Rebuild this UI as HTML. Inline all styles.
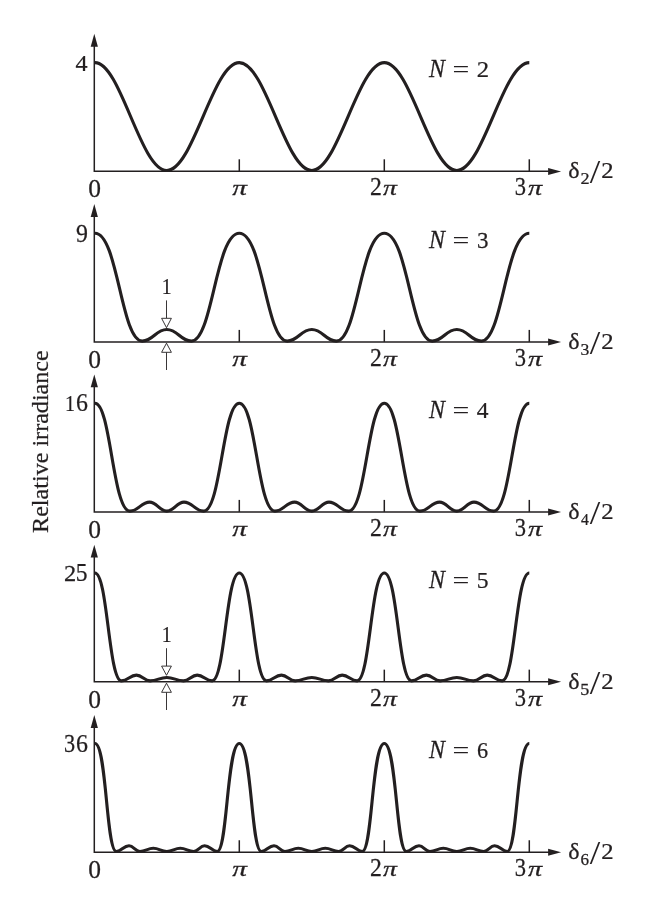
<!DOCTYPE html>
<html lang="en"><head><meta charset="utf-8"><title>Multiple-beam interference: relative irradiance</title>
<style>
html,body{margin:0;padding:0;background:#fff}
svg{display:block}
text{font-family:"Liberation Serif","DejaVu Serif",serif;fill:#231f20;stroke:#231f20;stroke-width:0.25px}
.it{font-style:italic}
.ax{stroke:#231f20;stroke-width:1.5;fill:none}
.cv{stroke:#231f20;stroke-width:3.1;fill:none;stroke-linejoin:round;stroke-linecap:butt}
.th{stroke:#231f20;stroke-width:0.9;fill:none}
.hd{fill:#231f20;stroke:none}
.ho{fill:#fff;stroke:#231f20;stroke-width:0.9}
</style></head><body>
<svg width="653" height="921" viewBox="0 0 653 921">
<rect width="653" height="921" fill="#fff"/>
<g>
<path class="ax" d="M94.3,43.80 V171.30 H550"/>
<path class="hd" d="M94.3,33.80 L97.89999999999999,46.70 L90.7,46.70 Z"/>
<path class="hd" d="M561.1,171.40 L548.1,167.90 L548.1,174.90 Z"/>
<path class="ax" d="M239.3,171.30 V159.30"/>
<path class="ax" d="M384.3,171.30 V159.30"/>
<path class="ax" d="M529.3,171.30 V159.30"/>
<path class="cv" d="M95.00,62.60C120.70,62.60 140.40,170.50 166.80,170.50C193.20,170.50 212.90,62.60 239.30,62.60C265.70,62.60 285.40,170.50 311.80,170.50C338.20,170.50 357.90,62.60 384.30,62.60C410.70,62.60 430.40,170.50 456.80,170.50C483.20,170.50 502.90,62.60 529.30,62.60"/>
<text transform="translate(88.18 197.21) scale(1.024 1)" font-size="24.90">0</text>
<text class="it" transform="translate(232.19 194.64) scale(1.360 1)" font-size="21.55">π</text>
<text transform="translate(369.91 194.65) scale(0.981 1)" font-size="24.17">2</text>
<text class="it" transform="translate(383.10 194.64) scale(1.289 1)" font-size="21.55">π</text>
<text transform="translate(514.87 194.81) scale(0.922 1)" font-size="24.41">3</text>
<text class="it" transform="translate(527.90 194.64) scale(1.307 1)" font-size="21.55">π</text>
<text transform="translate(75.48 70.75) scale(1.037 1)" font-size="23.25">4</text>
<text class="it" transform="translate(429.02 76.95) scale(0.983 1)" font-size="24.28">N</text>
<text style="stroke:none" transform="translate(452.46 77.12) scale(1.245 1)" font-size="24.00">=</text>
<text transform="translate(476.76 76.75) scale(1.055 1)" font-size="23.41">2</text>
<text transform="translate(568.25 178.23) scale(1.056 1)" font-size="22.72">δ</text>
<text transform="translate(580.55 184.25) scale(1.067 1)" font-size="17.07">2</text>
<text style="stroke:none" transform="translate(589.85 183.21) scale(1.099 1)" font-size="34.38">/</text>
<text transform="translate(601.16 178.45) scale(1.083 1)" font-size="22.81">2</text>
</g>
<g>
<path class="ax" d="M94.3,214.10 V341.90 H550"/>
<path class="hd" d="M94.3,204.10 L97.89999999999999,217.00 L90.7,217.00 Z"/>
<path class="hd" d="M561.1,342.00 L548.1,338.50 L548.1,345.50 Z"/>
<path class="ax" d="M239.3,341.90 V329.90"/>
<path class="ax" d="M384.3,341.90 V329.90"/>
<path class="ax" d="M529.3,341.90 V329.90"/>
<path class="cv" d="M95.00,233.20C117.77,233.20 121.12,341.10 142.20,341.10C153.27,341.10 155.73,329.50 166.80,329.50C177.87,329.50 180.33,341.10 191.40,341.10C212.48,341.10 215.83,233.20 239.30,233.20C262.77,233.20 266.12,341.10 287.20,341.10C298.27,341.10 300.73,329.50 311.80,329.50C322.87,329.50 325.33,341.10 336.40,341.10C357.48,341.10 360.83,233.20 384.30,233.20C407.77,233.20 411.12,341.10 432.20,341.10C443.27,341.10 445.73,329.50 456.80,329.50C467.87,329.50 470.33,341.10 481.40,341.10C502.48,341.10 505.83,233.20 529.30,233.20"/>
<text transform="translate(88.18 368.21) scale(1.024 1)" font-size="24.90">0</text>
<text class="it" transform="translate(232.19 365.64) scale(1.360 1)" font-size="21.55">π</text>
<text transform="translate(369.91 365.65) scale(0.981 1)" font-size="24.17">2</text>
<text class="it" transform="translate(383.10 365.64) scale(1.289 1)" font-size="21.55">π</text>
<text transform="translate(514.87 365.81) scale(0.922 1)" font-size="24.41">3</text>
<text class="it" transform="translate(527.90 365.64) scale(1.307 1)" font-size="21.55">π</text>
<text transform="translate(75.98 241.50) scale(0.950 1)" font-size="25.15">9</text>
<text class="it" transform="translate(429.02 247.95) scale(0.983 1)" font-size="24.28">N</text>
<text style="stroke:none" transform="translate(452.46 248.12) scale(1.245 1)" font-size="24.00">=</text>
<text transform="translate(476.95 247.82) scale(0.966 1)" font-size="23.81">3</text>
<text transform="translate(568.25 349.23) scale(1.056 1)" font-size="22.72">δ</text>
<text transform="translate(580.50 355.09) scale(1.051 1)" font-size="16.82">3</text>
<text style="stroke:none" transform="translate(589.85 354.21) scale(1.099 1)" font-size="34.38">/</text>
<text transform="translate(601.16 349.45) scale(1.083 1)" font-size="22.81">2</text>
<path class="th" d="M166.5,300.4 V318.3"/>
<path class="ho" d="M166.5,327.7 L161.6,318.3 L171.4,318.3 Z"/>
<path class="th" d="M166.5,352.3 V370.0"/>
<path class="ho" d="M166.5,343.2 L161.6,352.3 L171.4,352.3 Z"/>
<text transform="translate(161.70 293.65) scale(0.850 1)" font-size="23.18">1</text>
</g>
<g>
<path class="ax" d="M94.3,384.40 V511.90 H550"/>
<path class="hd" d="M94.3,374.40 L97.89999999999999,387.30 L90.7,387.30 Z"/>
<path class="hd" d="M561.1,512.00 L548.1,508.50 L548.1,515.50 Z"/>
<path class="ax" d="M239.3,511.90 V499.90"/>
<path class="ax" d="M384.3,511.90 V499.90"/>
<path class="ax" d="M529.3,511.90 V499.90"/>
<path class="cv" d="M95.00,403.20C110.68,403.20 112.81,511.10 129.90,511.10C138.17,511.10 141.33,502.10 149.60,502.10C156.82,502.10 159.58,511.10 166.80,511.10C174.02,511.10 176.78,502.10 184.00,502.10C192.27,502.10 195.43,511.10 203.70,511.10C220.79,511.10 222.92,403.20 239.30,403.20C255.68,403.20 257.81,511.10 274.90,511.10C283.17,511.10 286.33,502.10 294.60,502.10C301.82,502.10 304.58,511.10 311.80,511.10C319.02,511.10 321.78,502.10 329.00,502.10C337.27,502.10 340.43,511.10 348.70,511.10C365.79,511.10 367.92,403.20 384.30,403.20C400.68,403.20 402.81,511.10 419.90,511.10C428.17,511.10 431.33,502.10 439.60,502.10C446.82,502.10 449.58,511.10 456.80,511.10C464.02,511.10 466.78,502.10 474.00,502.10C482.27,502.10 485.43,511.10 493.70,511.10C510.79,511.10 512.92,403.20 529.30,403.20"/>
<text transform="translate(88.18 538.21) scale(1.024 1)" font-size="24.90">0</text>
<text class="it" transform="translate(232.19 535.64) scale(1.360 1)" font-size="21.55">π</text>
<text transform="translate(369.91 535.65) scale(0.981 1)" font-size="24.17">2</text>
<text class="it" transform="translate(383.10 535.64) scale(1.289 1)" font-size="21.55">π</text>
<text transform="translate(514.87 535.81) scale(0.922 1)" font-size="24.41">3</text>
<text class="it" transform="translate(527.90 535.64) scale(1.307 1)" font-size="21.55">π</text>
<text transform="translate(64.88 410.75) scale(0.850 1)" font-size="23.48">1</text>
<text transform="translate(76.02 411.30) scale(0.927 1)" font-size="25.75">6</text>
<text class="it" transform="translate(429.02 417.95) scale(0.983 1)" font-size="24.28">N</text>
<text style="stroke:none" transform="translate(452.46 418.12) scale(1.245 1)" font-size="24.00">=</text>
<text transform="translate(476.79 417.75) scale(0.996 1)" font-size="23.55">4</text>
<text transform="translate(568.25 519.23) scale(1.056 1)" font-size="22.72">δ</text>
<text transform="translate(581.04 525.25) scale(0.915 1)" font-size="17.17">4</text>
<text style="stroke:none" transform="translate(589.85 524.21) scale(1.099 1)" font-size="34.38">/</text>
<text transform="translate(601.16 519.45) scale(1.083 1)" font-size="22.81">2</text>
</g>
<g>
<path class="ax" d="M94.3,554.70 V681.65 H550"/>
<path class="hd" d="M94.3,544.70 L97.89999999999999,557.60 L90.7,557.60 Z"/>
<path class="hd" d="M561.1,681.75 L548.1,678.25 L548.1,685.25 Z"/>
<path class="ax" d="M239.3,681.65 V669.65"/>
<path class="ax" d="M384.3,681.65 V669.65"/>
<path class="ax" d="M529.3,681.65 V669.65"/>
<path class="cv" d="M95.00,572.95C107.58,572.95 108.66,680.85 121.40,680.85C127.70,680.85 130.10,675.15 136.40,675.15C142.20,675.15 144.40,680.85 150.20,680.85C157.17,680.85 159.83,677.45 166.80,677.45C173.77,677.45 176.43,680.85 183.40,680.85C189.20,680.85 191.40,675.15 197.20,675.15C203.50,675.15 205.90,680.85 212.20,680.85C224.94,680.85 226.02,572.95 239.30,572.95C252.58,572.95 253.66,680.85 266.40,680.85C272.70,680.85 275.10,675.15 281.40,675.15C287.20,675.15 289.40,680.85 295.20,680.85C302.17,680.85 304.83,677.45 311.80,677.45C318.77,677.45 321.43,680.85 328.40,680.85C334.20,680.85 336.40,675.15 342.20,675.15C348.50,675.15 350.90,680.85 357.20,680.85C369.94,680.85 371.02,572.95 384.30,572.95C397.58,572.95 398.66,680.85 411.40,680.85C417.70,680.85 420.10,675.15 426.40,675.15C432.20,675.15 434.40,680.85 440.20,680.85C447.17,680.85 449.83,677.45 456.80,677.45C463.77,677.45 466.43,680.85 473.40,680.85C479.20,680.85 481.40,675.15 487.20,675.15C493.50,675.15 495.90,680.85 502.20,680.85C514.94,680.85 516.02,572.95 529.30,572.95"/>
<text transform="translate(88.18 708.21) scale(1.024 1)" font-size="24.90">0</text>
<text class="it" transform="translate(232.19 705.64) scale(1.360 1)" font-size="21.55">π</text>
<text transform="translate(369.91 705.65) scale(0.981 1)" font-size="24.17">2</text>
<text class="it" transform="translate(383.10 705.64) scale(1.289 1)" font-size="21.55">π</text>
<text transform="translate(514.87 705.81) scale(0.922 1)" font-size="24.41">3</text>
<text class="it" transform="translate(527.90 705.64) scale(1.307 1)" font-size="21.55">π</text>
<text transform="translate(63.98 580.65) scale(1.024 1)" font-size="23.86">2</text>
<text transform="translate(75.68 580.91) scale(0.961 1)" font-size="24.53">5</text>
<text class="it" transform="translate(429.02 587.95) scale(0.983 1)" font-size="24.28">N</text>
<text style="stroke:none" transform="translate(452.46 588.12) scale(1.245 1)" font-size="24.00">=</text>
<text transform="translate(476.68 587.81) scale(0.980 1)" font-size="24.08">5</text>
<text transform="translate(568.25 689.23) scale(1.056 1)" font-size="22.72">δ</text>
<text transform="translate(580.30 695.08) scale(1.066 1)" font-size="17.00">5</text>
<text style="stroke:none" transform="translate(589.85 694.21) scale(1.099 1)" font-size="34.38">/</text>
<text transform="translate(601.16 689.45) scale(1.083 1)" font-size="22.81">2</text>
<path class="th" d="M166.5,648.2 V666.1"/>
<path class="ho" d="M166.5,675.3 L161.6,666.1 L171.4,666.1 Z"/>
<path class="th" d="M166.5,692.3 V710.0"/>
<path class="ho" d="M166.5,683.2 L161.6,692.3 L171.4,692.3 Z"/>
<text transform="translate(161.67 641.75) scale(0.850 1)" font-size="23.33">1</text>
</g>
<g>
<path class="ax" d="M94.3,725.00 V852.25 H550"/>
<path class="hd" d="M94.3,715.00 L97.89999999999999,727.90 L90.7,727.90 Z"/>
<path class="hd" d="M561.1,852.35 L548.1,848.85 L548.1,855.85 Z"/>
<path class="ax" d="M239.3,852.25 V840.25"/>
<path class="ax" d="M384.3,852.25 V840.25"/>
<path class="ax" d="M529.3,852.25 V840.25"/>
<path class="cv" d="M95.00,743.55C106.62,743.55 106.18,851.45 116.30,851.45C121.63,851.45 123.67,845.75 129.00,845.75C133.58,845.75 135.32,851.45 139.90,851.45C145.53,851.45 147.67,848.25 153.30,848.25C158.97,848.25 161.13,851.45 166.80,851.45C172.47,851.45 174.63,848.25 180.30,848.25C185.93,848.25 188.07,851.45 193.70,851.45C198.28,851.45 200.02,845.75 204.60,845.75C209.93,845.75 211.97,851.45 217.30,851.45C227.42,851.45 226.98,743.55 239.30,743.55C251.62,743.55 251.18,851.45 261.30,851.45C266.63,851.45 268.67,845.75 274.00,845.75C278.58,845.75 280.32,851.45 284.90,851.45C290.53,851.45 292.67,848.25 298.30,848.25C303.97,848.25 306.13,851.45 311.80,851.45C317.47,851.45 319.63,848.25 325.30,848.25C330.93,848.25 333.07,851.45 338.70,851.45C343.28,851.45 345.02,845.75 349.60,845.75C354.93,845.75 356.97,851.45 362.30,851.45C372.42,851.45 371.98,743.55 384.30,743.55C396.62,743.55 396.18,851.45 406.30,851.45C411.63,851.45 413.67,845.75 419.00,845.75C423.58,845.75 425.32,851.45 429.90,851.45C435.53,851.45 437.67,848.25 443.30,848.25C448.97,848.25 451.13,851.45 456.80,851.45C462.47,851.45 464.63,848.25 470.30,848.25C475.93,848.25 478.07,851.45 483.70,851.45C488.28,851.45 490.02,845.75 494.60,845.75C499.93,845.75 501.97,851.45 507.30,851.45C517.42,851.45 516.98,743.55 529.30,743.55"/>
<text transform="translate(88.18 878.21) scale(1.024 1)" font-size="24.90">0</text>
<text class="it" transform="translate(232.19 875.64) scale(1.360 1)" font-size="21.55">π</text>
<text transform="translate(369.91 875.65) scale(0.981 1)" font-size="24.17">2</text>
<text class="it" transform="translate(383.10 875.64) scale(1.289 1)" font-size="21.55">π</text>
<text transform="translate(514.87 875.81) scale(0.922 1)" font-size="24.41">3</text>
<text class="it" transform="translate(527.90 875.64) scale(1.307 1)" font-size="21.55">π</text>
<text transform="translate(63.98 751.91) scale(0.918 1)" font-size="24.26">3</text>
<text transform="translate(76.02 752.10) scale(0.938 1)" font-size="25.45">6</text>
<text class="it" transform="translate(429.02 757.95) scale(0.983 1)" font-size="24.28">N</text>
<text style="stroke:none" transform="translate(452.46 758.12) scale(1.245 1)" font-size="24.00">=</text>
<text transform="translate(477.09 757.82) scale(0.934 1)" font-size="23.81">6</text>
<text transform="translate(568.25 859.23) scale(1.056 1)" font-size="22.72">δ</text>
<text transform="translate(580.62 865.09) scale(1.016 1)" font-size="16.82">6</text>
<text style="stroke:none" transform="translate(589.85 864.21) scale(1.099 1)" font-size="34.38">/</text>
<text transform="translate(601.16 859.45) scale(1.083 1)" font-size="22.81">2</text>
</g>
<text transform="translate(48.1 532.89) rotate(-90) scale(1.048 1)" font-size="23.0">Relative irradiance</text>
</svg></body></html>
